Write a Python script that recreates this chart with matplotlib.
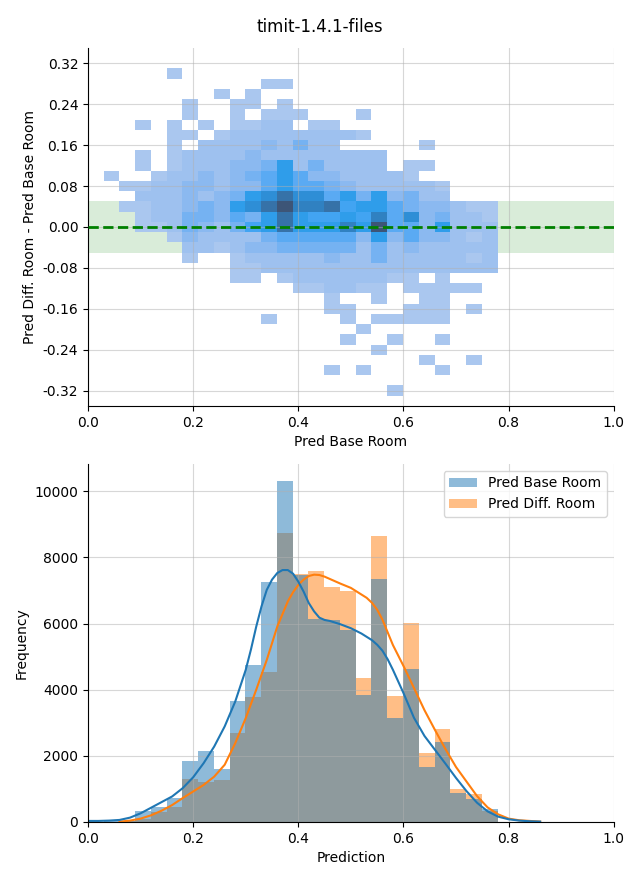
import numpy as np
import matplotlib
matplotlib.use("Agg")
import matplotlib.pyplot as plt
from matplotlib.colors import LinearSegmentedColormap

# 2d histogram: counts per cell, rows from y=0.30 (top) down to y=-0.32
# hex digits, one char per x-bin (25 bins)
hist2d_rows = [
    "0000100000000000000000000",  # 0.30
    "0000000000110000000000000",  # 0.28
    "0000000101000000000000000",  # 0.26
    "0000010011010000000000000",  # 0.24
    "0000010010111000100000000",  # 0.22
    "0010101011220110000000000",  # 0.20
    "0000110122222222100000000",  # 0.18
    "0000102222324220000010000",  # 0.16
    "0010122223222222220000000",  # 0.14
    "0010122233472422220110000",  # 0.12
    "1001223234575332222100000",  # 0.10
    "0112233233575543222221000",  # 0.08
    "00222323478a8857473422000",  # 0.06
    "0112234378ac99a6775433211",  # 0.04
    "00122443547a7667695834221",  # 0.02
    "00112432467a77797c5537222",  # 0.00
    "0000132222455555373533212",  # -0.02
    "0000022123344444242322222",  # -0.04
    "0000010012222232242222212",  # -0.06
    "0000000011222222222222222",  # -0.08
    "0000000011012222221101000",  # -0.10
    "0000000000001122110111110",  # -0.12
    "0000000000000010010011000",  # -0.14
    "0000000000000011000111010",  # -0.16
    "0000000000100001011111000",  # -0.18
    "0000000000000000100000000",  # -0.20
    "0000000000000001001001000",  # -0.22
    "0000000000000000010000000",  # -0.24
    "0000000000000000000010010",  # -0.26
    "0000000000000010100001000",  # -0.28
    "0000000000000000000000000",  # -0.30
    "0000000000000000001000000",  # -0.32
]

# 1d histograms (same 25 bins)
base_counts = [20, 40, 330, 454, 726, 1857, 2149, 1604, 3673, 4752, 7265, 10322, 7460,
               6130, 6110, 5800, 3844, 7335, 3158, 4631, 1675, 2422, 868, 696, 394]
diff_counts = [10, 20, 100, 313, 464, 1302, 1211, 1271, 2704, 3794, 4550, 8728, 7500,
               7600, 7100, 7000, 4359, 8640, 3814, 6010, 2089, 2815, 999, 858, 330]

# kde curves (scaled to counts)
base_kde_x = [0.00, 0.02, 0.04, 0.06, 0.08, 0.10, 0.12, 0.14, 0.16, 0.18, 0.20, 0.22,
              0.24, 0.26, 0.28, 0.30, 0.31, 0.32, 0.33, 0.34, 0.35, 0.36, 0.37, 0.38,
              0.39, 0.40, 0.41, 0.42, 0.43, 0.44, 0.45, 0.46, 0.48, 0.50, 0.52, 0.54,
              0.55, 0.56, 0.57, 0.58, 0.60, 0.62, 0.64, 0.66, 0.68, 0.70, 0.72, 0.74,
              0.76, 0.78, 0.80, 0.82, 0.84, 0.86]
base_kde_y = [30, 30, 40, 60, 130, 260, 430, 600, 770, 1020, 1350, 1780,
              2280, 2890, 3640, 4600, 5220, 5910, 6520, 7020, 7330, 7530, 7620, 7620,
              7510, 7270, 6970, 6620, 6370, 6180, 6110, 6080, 5980, 5860, 5700, 5500,
              5360, 5180, 4920, 4600, 3900, 3150, 2600, 2180, 1760, 1330, 930, 580,
              320, 160, 80, 40, 20, 10]
diff_kde_x = [0.06, 0.08, 0.10, 0.12, 0.14, 0.16, 0.18, 0.20, 0.22, 0.24, 0.26, 0.28,
              0.30, 0.32, 0.34, 0.36, 0.38, 0.39, 0.40, 0.41, 0.42, 0.43, 0.44, 0.45,
              0.46, 0.48, 0.50, 0.52, 0.53, 0.54, 0.55, 0.56, 0.58, 0.60, 0.62, 0.64,
              0.66, 0.68, 0.70, 0.72, 0.74, 0.76, 0.78, 0.80, 0.82, 0.84, 0.86]
diff_kde_y = [10, 40, 100, 200, 340, 510, 720, 920, 1120, 1370, 1730, 2380,
              3140, 4000, 4900, 5910, 6670, 6950, 7170, 7330, 7440, 7480, 7470, 7420,
              7350, 7210, 7080, 6880, 6780, 6630, 6420, 6120, 5350, 4720, 4050, 3380,
              2780, 2200, 1660, 1220, 780, 440, 230, 100, 50, 30, 10]

# bins
x_edges = np.linspace(0.0295, 0.779, 26)
y_edges = np.linspace(-0.33, 0.31, 33)
counts2d = np.array([[int(c, 16) for c in r] for r in hist2d_rows])[::-1]
counts2d = np.ma.masked_equal(counts2d, 0)

cmap = LinearSegmentedColormap.from_list("cells", [
    "#aac7ef", "#9ec1ef", "#8bb9f0", "#74b2f2", "#5aaaf3", "#42a4f2",
    "#2f9dea", "#2e8ed6", "#3081c2", "#3672a8", "#3a628d", "#3d5577"])

fig, (ax1, ax2) = plt.subplots(2, 1, figsize=(6.4, 8.8), dpi=100)
fig.subplots_adjust(left=0.1375, right=0.959, top=0.9455, bottom=0.066, hspace=0.162)
fig.suptitle("timit-1.4.1-files", fontsize=12)

# top: 2d histogram
ax1.axhspan(-0.05, 0.05, color="green", alpha=0.15, lw=0, zorder=0.5)
ax1.pcolormesh(x_edges, y_edges, counts2d, cmap=cmap, vmin=1, vmax=12, zorder=1)
ax1.axhline(0, color="green", linestyle="--", lw=2, zorder=3)
ax1.set_xlim(0, 1)
ax1.set_ylim(-0.35, 0.35)
ax1.set_yticks(np.arange(-0.32, 0.33, 0.08))
ax1.yaxis.set_major_formatter(plt.FormatStrFormatter("%.2f"))
ax1.set_xlabel("Pred Base Room")
ax1.set_ylabel("Pred Diff. Room - Pred Base Room")
ax1.grid(True, color="#b0b0b0", alpha=0.5)

# bottom: histograms + kde
centers = (x_edges[:-1] + x_edges[1:]) / 2
width = x_edges[1] - x_edges[0]
ax2.bar(centers, diff_counts, width=width, color="C1", alpha=0.5, lw=0, label="Pred Diff. Room")
ax2.bar(centers, base_counts, width=width, color="C0", alpha=0.5, lw=0, label="Pred Base Room")
ax2.plot(diff_kde_x, diff_kde_y, color="C1", lw=1.5)
ax2.plot(base_kde_x, base_kde_y, color="C0", lw=1.5)
ax2.set_xlim(0, 1)
ax2.set_ylim(0, 10830)
ax2.set_xlabel("Prediction")
ax2.set_ylabel("Frequency")
ax2.grid(True, color="#b0b0b0", alpha=0.5)
h, l = ax2.get_legend_handles_labels()
ax2.legend(h[::-1], l[::-1], loc="upper right")

for ax in (ax1, ax2):
    ax.spines["top"].set_visible(False)
    ax.spines["right"].set_visible(False)

fig.savefig("out.png")
